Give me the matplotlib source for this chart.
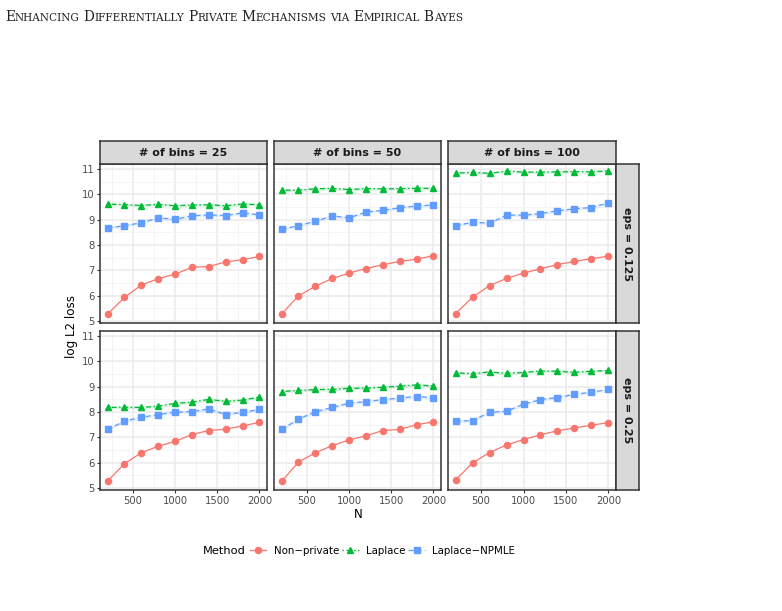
import numpy as np
import matplotlib
matplotlib.use("Agg")
import matplotlib.pyplot as plt
from matplotlib.lines import Line2D

# data
N = [200, 400, 600, 800, 1000, 1200, 1400, 1600, 1800, 2000]
bins = [25, 50, 100]
eps = ["0.125", "0.25"]
methods = ["Non\u2212private", "Laplace", "Laplace\u2212NPMLE"]

# eps = 0.125
np_125 = {
    25: [5.27, 5.93, 6.42, 6.67, 6.85, 7.12, 7.15, 7.33, 7.42, 7.55],
    50: [5.27, 5.99, 6.37, 6.68, 6.89, 7.07, 7.22, 7.35, 7.44, 7.58],
    100: [5.29, 5.94, 6.40, 6.68, 6.89, 7.06, 7.23, 7.35, 7.46, 7.56],
}
lap_125 = {
    25: [9.61, 9.60, 9.56, 9.61, 9.55, 9.58, 9.59, 9.55, 9.62, 9.59],
    50: [10.16, 10.17, 10.22, 10.24, 10.19, 10.23, 10.22, 10.23, 10.24, 10.24],
    100: [10.84, 10.87, 10.83, 10.92, 10.88, 10.88, 10.89, 10.90, 10.89, 10.93],
}
npmle_125 = {
    25: [8.67, 8.76, 8.88, 9.07, 9.02, 9.15, 9.19, 9.16, 9.27, 9.19],
    50: [8.62, 8.76, 8.94, 9.15, 9.07, 9.30, 9.37, 9.47, 9.54, 9.58],
    100: [8.76, 8.90, 8.86, 9.18, 9.18, 9.24, 9.35, 9.43, 9.48, 9.66],
}
# eps = 0.25
np_25 = {
    25: [5.27, 5.96, 6.39, 6.65, 6.84, 7.11, 7.27, 7.32, 7.45, 7.59],
    50: [5.26, 6.02, 6.39, 6.67, 6.90, 7.06, 7.27, 7.31, 7.50, 7.61],
    100: [5.32, 5.99, 6.40, 6.70, 6.91, 7.10, 7.26, 7.37, 7.48, 7.58],
}
lap_25 = {
    25: [8.18, 8.19, 8.18, 8.23, 8.34, 8.39, 8.50, 8.42, 8.47, 8.59],
    50: [8.81, 8.85, 8.89, 8.89, 8.94, 8.94, 8.98, 9.02, 9.07, 9.03],
    100: [9.54, 9.52, 9.58, 9.53, 9.56, 9.62, 9.61, 9.57, 9.61, 9.64],
}
npmle_25 = {
    25: [7.31, 7.64, 7.79, 7.90, 7.99, 8.02, 8.12, 7.90, 7.99, 8.10],
    50: [7.31, 7.72, 8.01, 8.18, 8.35, 8.41, 8.49, 8.55, 8.61, 8.57],
    100: [7.64, 7.66, 7.99, 8.03, 8.31, 8.49, 8.57, 8.70, 8.78, 8.89],
}
series = {
    "0.125": [np_125, lap_125, npmle_125],
    "0.25": [np_25, lap_25, npmle_25],
}

colors = ["#F8766D", "#00BA38", "#619CFF"]
markers = ["o", "^", "s"]
msizes = [4.4, 5.0, 4.8]
dashes = [None, (1.2, 2, 4, 2), (4, 2.5)]

W, H = 782, 611
fig = plt.figure(figsize=(W / 100, H / 100), dpi=100)


def rect(x0, y0, x1, y1):
    return [x0 / W, 1 - y1 / H, (x1 - x0) / W, (y1 - y0) / H]


cols = [(100, 267), (274, 441), (448, 616)]
rows = [(164, 323), (331, 490)]
dark = "#333333"

for r, e in enumerate(eps):
    for c, b in enumerate(bins):
        x0, x1 = cols[c]
        y0, y1 = rows[r]
        ax = fig.add_axes(rect(x0, y0, x1, y1))
        ax.set_xlim(110, 2090)
        ax.set_ylim(4.92, 11.2)
        ax.set_xticks([500, 1000, 1500, 2000])
        ax.set_yticks([5, 6, 7, 8, 9, 10, 11])
        ax.set_xticks([250, 750, 1250, 1750], minor=True)
        ax.set_yticks(np.arange(5.5, 11, 1), minor=True)
        ax.grid(True, which="major", color="#EBEBEB", lw=1.1)
        ax.grid(True, which="minor", color="#F2F2F2", lw=0.6)
        ax.set_axisbelow(True)
        for s in ax.spines.values():
            s.set_color(dark)
            s.set_linewidth(1.1)
        ax.tick_params(which="minor", length=0)
        ax.tick_params(which="major", length=2.5, width=0.8, color=dark,
                       labelcolor="#4D4D4D", labelsize=7.2, pad=1.5)
        if c > 0:
            ax.tick_params(axis="y", length=0, labelleft=False)
        if r == 0:
            ax.tick_params(axis="x", length=0, labelbottom=False)

        for k in [1, 2, 0]:
            y = np.array(series[e][k][b])
            if k > 0:
                ax.fill_between(N, y - 0.06, y + 0.06, color=colors[k],
                                alpha=0.15, lw=0)
            ln, = ax.plot(N, y, color=colors[k], lw=0.9, marker=markers[k],
                          ms=msizes[k], mec=colors[k])
            if dashes[k] is not None:
                ln.set_dashes(dashes[k])

        # strips
        if r == 0:
            sax = fig.add_axes(rect(x0, 141, x1, 164))
            sax.set_facecolor("#D9D9D9")
            sax.set_xticks([])
            sax.set_yticks([])
            for s in sax.spines.values():
                s.set_color(dark)
                s.set_linewidth(1.1)
            sax.text(0.5, 0.48, "# of bins = %d" % b, ha="center", va="center",
                     fontsize=8.0, fontweight="bold", color="#1A1A1A",
                     transform=sax.transAxes)
        if c == 2:
            sax = fig.add_axes(rect(616, y0, 639, y1))
            sax.set_facecolor("#D9D9D9")
            sax.set_xticks([])
            sax.set_yticks([])
            for s in sax.spines.values():
                s.set_color(dark)
                s.set_linewidth(1.1)
            sax.text(0.5, 0.5, "eps = " + e, ha="center", va="center",
                     rotation=-90, fontsize=8.0, fontweight="bold",
                     color="#1A1A1A", transform=sax.transAxes)

fig.text(71 / W, 1 - 327 / H, "log L2 loss", rotation=90, ha="center",
         va="center", fontsize=8.6)
fig.text(358 / W, 1 - 514 / H, "N", ha="center", va="center", fontsize=8.6)

# legend
fig.text(203 / W, 1 - 551 / H, "Method", ha="left", va="center", fontsize=8.2)
handles = []
for k in range(3):
    h = Line2D([], [], color=colors[k], marker=markers[k], ms=msizes[k],
               lw=0.9)
    if dashes[k] is not None:
        h.set_dashes(dashes[k])
    handles.append(h)
fig.legend(handles, methods, loc="center left",
           bbox_to_anchor=(250 / W, 1 - 551 / H), ncol=3, frameon=False,
           fontsize=7.4, handlelength=1.6, handletextpad=0.7,
           columnspacing=0.3, borderaxespad=0, borderpad=0)

# header in small caps
title = "Enhancing Differentially Private Mechanisms via Empirical Bayes"
renderer = fig.canvas.get_renderer()
xpos = 5.0
base = H - 21
for word in title.split(" "):
    parts = []
    if word[0].isupper():
        parts.append((word[0], 9.9))
        parts.append((word[1:].upper(), 7.6))
    else:
        parts.append((word.upper(), 7.6))
    for txt, fs in parts:
        t = fig.text(xpos / W, base / H, txt, fontsize=fs, family="DejaVu Serif",
                     ha="left", va="baseline", color="#222222")
        bb = t.get_window_extent(renderer)
        xpos += bb.width
    xpos += 3.8

fig.savefig("out.png", dpi=100)
